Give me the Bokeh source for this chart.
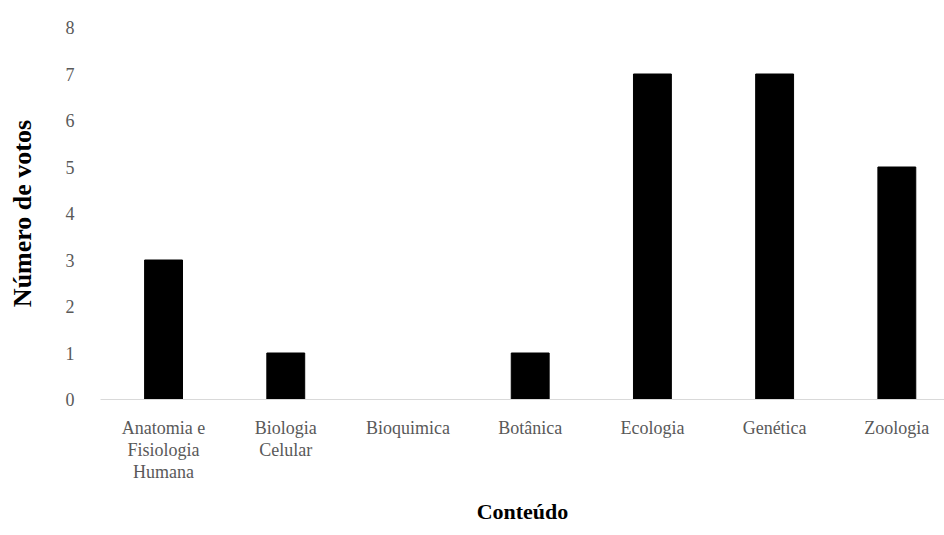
from bokeh.plotting import figure
from bokeh.models import Range1d, FixedTicker, ColumnDataSource
from bokeh.embed import file_html
from bokeh.resources import INLINE

categories = ["Anatomia e\nFisiologia\nHumana", "Biologia\nCelular", "Bioquimica",
              "Botânica", "Ecologia", "Genética", "Zoologia"]
votes = [3, 1, 0, 1, 7, 7, 5]
y_ticks = [0, 1, 2, 3, 4, 5, 6, 7, 8]

xs = list(range(len(categories)))
src = ColumnDataSource(dict(x=xs, top=votes))

p = figure(width=944, height=535, output_backend="svg", toolbar_location=None,
           x_range=Range1d(-0.516, 6.39), y_range=Range1d(0, 8),
           min_border_left=100, min_border_right=0, min_border_top=27,
           min_border_bottom=136)
p.vbar(x="x", top="top", width=0.31, bottom=0, source=src,
       fill_color="black", line_color="black")

p.outline_line_color = None
p.grid.visible = False
p.background_fill_color = "white"

font = "Liberation Serif"
p.xaxis.ticker = FixedTicker(ticks=xs)
p.xaxis.major_label_overrides = {i: c for i, c in enumerate(categories)}
p.xaxis.major_tick_line_color = None
p.xaxis.minor_tick_line_color = None
p.xaxis.axis_line_color = "#d9d9d9"
p.xaxis.axis_line_width = 1
p.xaxis.major_label_text_font = font
p.xaxis.major_label_text_font_size = "18px"
p.xaxis.major_label_text_color = "#595959"
p.xaxis.major_label_text_line_height = 1.1
p.xaxis.major_label_standoff = 12
p.xaxis.axis_label = "Conteúdo"
p.xaxis.axis_label_text_font = font
p.xaxis.axis_label_text_font_style = "bold"
p.xaxis.axis_label_text_font_size = "22px"
p.xaxis.axis_label_text_color = "black"
p.xaxis.axis_label_standoff = 14

p.yaxis.ticker = FixedTicker(ticks=y_ticks)
p.yaxis.major_tick_line_color = None
p.yaxis.minor_tick_line_color = None
p.yaxis.axis_line_color = None
p.yaxis.major_label_text_font = font
p.yaxis.major_label_text_font_size = "18px"
p.yaxis.major_label_text_color = "#595959"
p.yaxis.major_label_standoff = 20
p.yaxis.axis_label = "Número de votos"
p.yaxis.axis_label_text_font = font
p.yaxis.axis_label_text_font_style = "bold"
p.yaxis.axis_label_text_font_size = "26px"
p.yaxis.axis_label_text_color = "black"
p.yaxis.axis_label_standoff = 26

open("out.html", "w").write(file_html(p, INLINE))
